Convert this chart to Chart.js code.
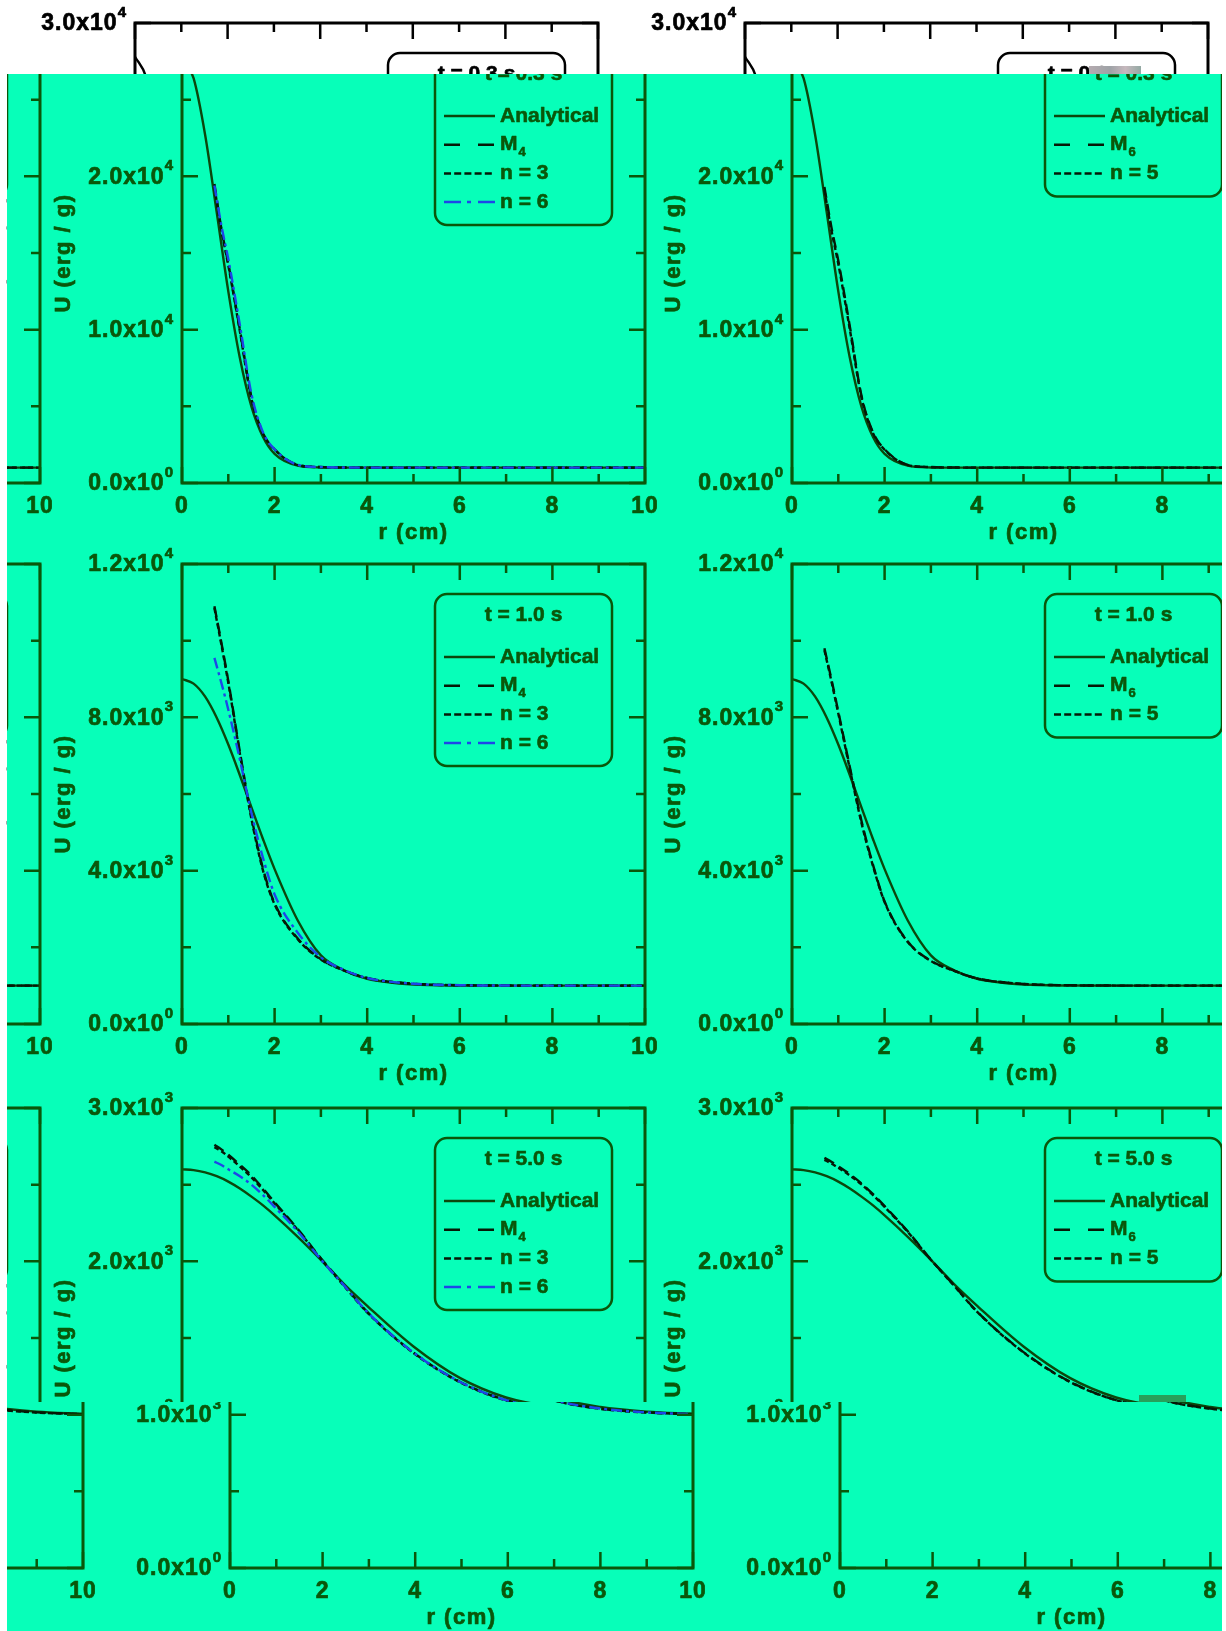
<!DOCTYPE html>
<html>
<head>
<meta charset="utf-8">
<title>U(r) profiles</title>
<script src="https://cdn.jsdelivr.net/npm/chart.js@4.4.1/dist/chart.umd.min.js"></script>
<style>
  body { margin: 0; background: #fff; }
  #page { position: relative; width: 1226px; height: 1631px; overflow: hidden; background: #fff; }
  .layer { position: absolute; overflow: hidden; }
  .figure { position: absolute; width: 1220px; height: 1631px; }
  .figure canvas { position: absolute; }
  .speck { position: absolute; }
</style>
</head>
<body>
<div id="page"></div>
<script>
// radius grids (cm)
const rAnalytic = [0, 0.25, 0.5, 0.75, 1, 1.25, 1.5, 1.75, 2, 2.5, 3, 3.5, 4, 5, 6, 7, 8, 9, 10];
const rNumeric = [0.7, 0.85, 1, 1.25, 1.5, 1.75, 2, 2.5, 3, 3.5, 4, 5, 6, 7, 8, 9, 10];

// t = 0.3 s
const uAnalytic_t03 = [27800, 26400, 22700, 17650, 12500, 8150, 4980, 3000, 1900, 1135, 1015, 1002, 1000, 1000, 1000, 1000, 1000, 1000, 1000];
const uM4_t03 = [19500, 16600, 14300, 10000, 5600, 3250, 2200, 1180, 1040, 1010, 1002, 1000, 1000, 1000, 1000, 1000, 1000];
const uN3_t03 = [19300, 16500, 14200, 9900, 5500, 3200, 2170, 1170, 1035, 1008, 1001, 1000, 1000, 1000, 1000, 1000, 1000];
const uN6_t03 = [19400, 16800, 14600, 10300, 5800, 3300, 2200, 1180, 1040, 1010, 1002, 1000, 1000, 1000, 1000, 1000, 1000];
const uM6_t03 = [19300, 16700, 14500, 10200, 5700, 3300, 2200, 1180, 1040, 1010, 1002, 1000, 1000, 1000, 1000, 1000, 1000];
const uN5_t03 = [19100, 16500, 14300, 10000, 5600, 3250, 2170, 1170, 1035, 1008, 1001, 1000, 1000, 1000, 1000, 1000, 1000];

// t = 1.0 s
const uAnalytic_t10 = [9000, 8880, 8540, 7990, 7290, 6490, 5650, 4820, 4040, 2700, 1790, 1400, 1180, 1030, 1004, 1000, 1000, 1000, 1000];
const uM4_t10 = [10900, 9950, 8950, 7100, 5400, 4050, 3150, 2230, 1690, 1400, 1200, 1050, 1012, 1003, 1000, 1000, 1000];
const uN3_t10 = [10850, 9900, 8900, 7050, 5350, 4000, 3120, 2210, 1680, 1395, 1195, 1048, 1011, 1003, 1000, 1000, 1000];
const uN6_t10 = [9550, 8900, 8200, 6900, 5500, 4330, 3380, 2380, 1740, 1410, 1200, 1050, 1012, 1003, 1000, 1000, 1000];
const uM6_t10 = [9800, 9000, 8150, 6700, 5300, 4150, 3200, 2150, 1650, 1390, 1190, 1045, 1010, 1002, 1000, 1000, 1000];
const uN5_t10 = [9750, 8950, 8100, 6650, 5250, 4120, 3180, 2140, 1645, 1388, 1188, 1045, 1010, 1002, 1000, 1000, 1000];

// t = 5.0 s
const uAnalytic_t50 = [2600, 2595, 2580, 2555, 2520, 2475, 2422, 2365, 2300, 2160, 2010, 1852, 1710, 1445, 1240, 1112, 1050, 1020, 1006];
const uM4_t50 = [2760, 2730, 2695, 2630, 2560, 2475, 2385, 2210, 2020, 1845, 1670, 1405, 1215, 1095, 1040, 1015, 1003];
const uN3_t50 = [2745, 2718, 2683, 2618, 2548, 2466, 2378, 2205, 2015, 1840, 1667, 1402, 1212, 1093, 1038, 1014, 1003];
const uN6_t50 = [2650, 2628, 2600, 2555, 2500, 2432, 2355, 2195, 2012, 1843, 1670, 1405, 1215, 1095, 1040, 1015, 1003];
const uM6_t50 = [2675, 2650, 2620, 2568, 2508, 2438, 2360, 2196, 2012, 1843, 1672, 1408, 1216, 1095, 1040, 1015, 1003];
const uN5_t50 = [2662, 2638, 2610, 2560, 2502, 2432, 2355, 2192, 2010, 1841, 1670, 1406, 1214, 1094, 1039, 1014, 1003];

// axis ticks
const rTicks = [0, 2, 4, 6, 8, 10];
const yTicks_t03 = [0, 10000, 20000, 30000];
const yLabels_t03 = [['0.0x10', '0'], ['1.0x10', '4'], ['2.0x10', '4'], ['3.0x10', '4']];
const yTicks_t10 = [0, 4000, 8000, 12000];
const yLabels_t10 = [['0.0x10', '0'], ['4.0x10', '3'], ['8.0x10', '3'], ['1.2x10', '4']];
const yTicks_t50 = [0, 1000, 2000, 3000];
const yLabels_t50 = [['0.0x10', '0'], ['1.0x10', '3'], ['2.0x10', '3'], ['3.0x10', '3']];

const FONT = '"Liberation Sans", Arial, sans-serif';

const themes = {
  paper: { bg: '#ffffff', ink: '#000000', analytic: '#000000', numeric: '#000000', blue: '#1f3fe6' },
  mint:  { bg: '#07ffb9', ink: '#0a570a', analytic: '#0c470c', numeric: '#061806', blue: '#1e46e8' }
};

const lineStyles = {
  solid:   { color: 'analytic', dash: [], legendDash: [] },
  long:    { color: 'numeric', dash: [11, 6], legendDash: [16, 18] },
  short:   { color: 'numeric', dash: [5, 3], legendDash: [7, 3.2] },
  dashdot: { color: 'blue', dash: [11, 4, 3, 4], legendDash: [17, 6, 4, 7] }
};

function seriesLeft(uA, uM, uN3, uN6) {
  return [
    { label: 'Analytical', style: 'solid', r: rAnalytic, u: uA },
    { label: 'M', sub: '4', style: 'long', r: rNumeric, u: uM },
    { label: 'n = 3', style: 'short', r: rNumeric, u: uN3 },
    { label: 'n = 6', style: 'dashdot', r: rNumeric, u: uN6 }
  ];
}
function seriesRight(uA, uM, uN5) {
  return [
    { label: 'Analytical', style: 'solid', r: rAnalytic, u: uA },
    { label: 'M', sub: '6', style: 'long', r: rNumeric, u: uM },
    { label: 'n = 5', style: 'short', r: rNumeric, u: uN5 }
  ];
}

const panels = [
  { row: 0, col: 0, title: 't = 0.3 s', yMax: 30000, yMinor: 5000, yTicks: yTicks_t03, yLabels: yLabels_t03,
    series: seriesLeft(uAnalytic_t03, uM4_t03, uN3_t03, uN6_t03) },
  { row: 0, col: 1, title: 't = 0.3 s', yMax: 30000, yMinor: 5000, yTicks: yTicks_t03, yLabels: yLabels_t03,
    series: seriesRight(uAnalytic_t03, uM6_t03, uN5_t03) },
  { row: 1, col: 0, title: 't = 1.0 s', yMax: 12000, yMinor: 2000, yTicks: yTicks_t10, yLabels: yLabels_t10,
    series: seriesLeft(uAnalytic_t10, uM4_t10, uN3_t10, uN6_t10) },
  { row: 1, col: 1, title: 't = 1.0 s', yMax: 12000, yMinor: 2000, yTicks: yTicks_t10, yLabels: yLabels_t10,
    series: seriesRight(uAnalytic_t10, uM6_t10, uN5_t10) },
  { row: 2, col: 0, title: 't = 5.0 s', yMax: 3000, yMinor: 500, yTicks: yTicks_t50, yLabels: yLabels_t50,
    series: seriesLeft(uAnalytic_t50, uM4_t50, uN3_t50, uN6_t50) },
  { row: 2, col: 1, title: 't = 5.0 s', yMax: 3000, yMinor: 500, yTicks: yTicks_t50, yLabels: yLabels_t50,
    series: seriesRight(uAnalytic_t50, uM6_t50, uN5_t50) }
];

// panel geometry
const PANEL_W = 610, PANEL_H = 546;
const COL_STEP = 610;
const CANVAS_TOP = [0, 541, 1085];
const PAD = { left: 135, top: 23, right: 12, bottom: 63 };

// fill plus a hairline stroke so the bold text reads heavier
function ink(ctx, str, x, y) {
  ctx.fillText(str, x, y);
  ctx.strokeText(str, x, y);
}

function frameFor(panel, theme) {
  return {
    id: 'panelFrame',
    afterDatasetsDraw(chart) {
      const { ctx, chartArea: a, scales: { x, y } } = chart;
      ctx.save();
      ctx.strokeStyle = theme.ink;
      ctx.fillStyle = theme.ink;

      // inward ticks on all four sides
      ctx.lineWidth = 2.5;
      ctx.beginPath();
      for (let r = 0; r <= 10; r++) {
        const px = x.getPixelForValue(r);
        const len = r % 2 ? 9 : 16;
        ctx.moveTo(px, a.bottom); ctx.lineTo(px, a.bottom - len);
        ctx.moveTo(px, a.top); ctx.lineTo(px, a.top + len);
      }
      for (let k = 0; k * panel.yMinor <= panel.yMax; k++) {
        const py = y.getPixelForValue(k * panel.yMinor);
        const len = k % 2 ? 9 : 16;
        ctx.moveTo(a.left, py); ctx.lineTo(a.left + len, py);
        ctx.moveTo(a.right, py); ctx.lineTo(a.right - len, py);
      }
      ctx.stroke();

      ctx.lineWidth = 3;
      ctx.strokeRect(a.left, a.top, a.right - a.left, a.bottom - a.top);

      ctx.lineWidth = 0.7;
      ctx.lineJoin = 'round';

      // x tick labels
      ctx.font = 'bold 23px ' + FONT;
      ctx.letterSpacing = '1px';
      ctx.textAlign = 'center';
      ctx.textBaseline = 'middle';
      rTicks.forEach(r => ink(ctx, String(r), x.getPixelForValue(r), a.bottom + 24));

      // y tick labels with exponent
      panel.yTicks.forEach((v, i) => {
        const [base, exp] = panel.yLabels[i];
        const py = y.getPixelForValue(v) + 1;
        ctx.font = 'bold 15px ' + FONT;
        const we = ctx.measureText(exp).width;
        ctx.font = 'bold 23px ' + FONT;
        const wb = ctx.measureText(base).width;
        const x0 = a.left - 8 - we - wb;
        ctx.textAlign = 'left';
        ink(ctx, base, x0, py);
        ctx.font = 'bold 15px ' + FONT;
        ink(ctx, exp, x0 + wb, py - 11);
      });

      // axis titles
      ctx.font = 'bold 22px ' + FONT;
      ctx.letterSpacing = '1.5px';
      ctx.textAlign = 'center';
      ink(ctx, 'r (cm)', (a.left + a.right) / 2, a.bottom + 50);
      ctx.save();
      ctx.translate(a.left - 118, (a.top + a.bottom) / 2);
      ctx.rotate(-Math.PI / 2);
      ink(ctx, 'U (erg / g)', 0, 0);
      ctx.restore();
      ctx.letterSpacing = '0px';

      // legend box
      const n = panel.series.length;
      const bx = a.left + 253, by = a.top + 30, bw = 177, bh = 58 + 28.5 * n;
      ctx.lineWidth = 2.5;
      ctx.beginPath();
      ctx.roundRect(bx, by, bw, bh, 12);
      ctx.stroke();

      ctx.lineWidth = 0.6;
      ctx.font = 'bold 21px ' + FONT;
      ctx.textAlign = 'center';
      ink(ctx, panel.title, bx + bw / 2, by + 21);

      panel.series.forEach((s, i) => {
        const st = lineStyles[s.style];
        const ly = by + 63 + i * 28.7;
        ctx.save();
        ctx.strokeStyle = theme[st.color];
        ctx.lineWidth = 2.5;
        ctx.setLineDash(st.legendDash);
        ctx.beginPath();
        ctx.moveTo(bx + 9, ly); ctx.lineTo(bx + 60, ly);
        ctx.stroke();
        ctx.restore();
        ctx.font = 'bold 21px ' + FONT;
        ctx.textAlign = 'left';
        ink(ctx, s.label, bx + 65, ly);
        if (s.sub) {
          const w = ctx.measureText(s.label).width;
          ctx.font = 'bold 13px ' + FONT;
          ink(ctx, s.sub, bx + 66 + w, ly + 8);
        }
      });
      ctx.restore();
    }
  };
}

function makePanel(canvas, panel, theme) {
  return new Chart(canvas, {
    type: 'line',
    data: {
      datasets: panel.series.map(s => {
        const st = lineStyles[s.style];
        return {
          label: s.label,
          data: s.r.map((r, i) => ({ x: r, y: s.u[i] })),
          borderColor: theme[st.color],
          borderWidth: 2.4,
          borderDash: st.dash,
          pointRadius: 0,
          fill: false,
          cubicInterpolationMode: 'monotone'
        };
      }).reverse()
    },
    options: {
      responsive: false,
      animation: false,
      devicePixelRatio: 1,
      events: [],
      layout: { padding: PAD },
      plugins: { legend: { display: false }, tooltip: { enabled: false } },
      scales: {
        x: { type: 'linear', min: 0, max: 10, display: false },
        y: { type: 'linear', min: 0, max: panel.yMax, display: false }
      }
    },
    plugins: [frameFor(panel, theme)]
  });
}

function buildFigure(parent, left, top, theme) {
  const fig = document.createElement('div');
  fig.className = 'figure';
  fig.style.left = left + 'px';
  fig.style.top = top + 'px';
  parent.appendChild(fig);
  panels.forEach(p => {
    const c = document.createElement('canvas');
    c.width = PANEL_W;
    c.height = PANEL_H;
    c.style.left = p.col * COL_STEP + 'px';
    c.style.top = CANVAS_TOP[p.row] + 'px';
    fig.appendChild(c);
    makePanel(c, p, theme);
  });
}

function addLayer(parent, box, theme) {
  const d = document.createElement('div');
  d.className = 'layer';
  d.style.left = box.left + 'px';
  d.style.top = box.top + 'px';
  d.style.width = box.width + 'px';
  d.style.height = box.height + 'px';
  d.style.background = theme.bg;
  parent.appendChild(d);
  return d;
}

function addSpeck(parent, left, top, width, height, bg) {
  const s = document.createElement('div');
  s.className = 'speck';
  Object.assign(s.style, { left: left + 'px', top: top + 'px', width: width + 'px', height: height + 'px', background: bg });
  parent.appendChild(s);
}

const page = document.getElementById('page');
buildFigure(page, 0, 0, themes.paper);

// offset copies, wrapping round the strip width
const STRIP_W = 1215;
const upper = addLayer(page, { left: 7, top: 74, width: STRIP_W, height: 1328 }, themes.mint);
buildFigure(upper, 40, -74, themes.mint);
buildFigure(upper, 40 - STRIP_W, -74, themes.mint);

const lower = addLayer(page, { left: 7, top: 1402, width: STRIP_W, height: 229 }, themes.mint);
buildFigure(lower, 88, -1402, themes.mint);
buildFigure(lower, 88 - 1220, -1402, themes.mint);

addSpeck(page, 1089, 66, 52, 8, 'linear-gradient(90deg,#b5abb0,#9ea2a6 40%,#c6b8bd 70%,#93a9a3)');
addSpeck(page, 1139, 1395, 47, 7, '#27a05a');
</script>
</body>
</html>
